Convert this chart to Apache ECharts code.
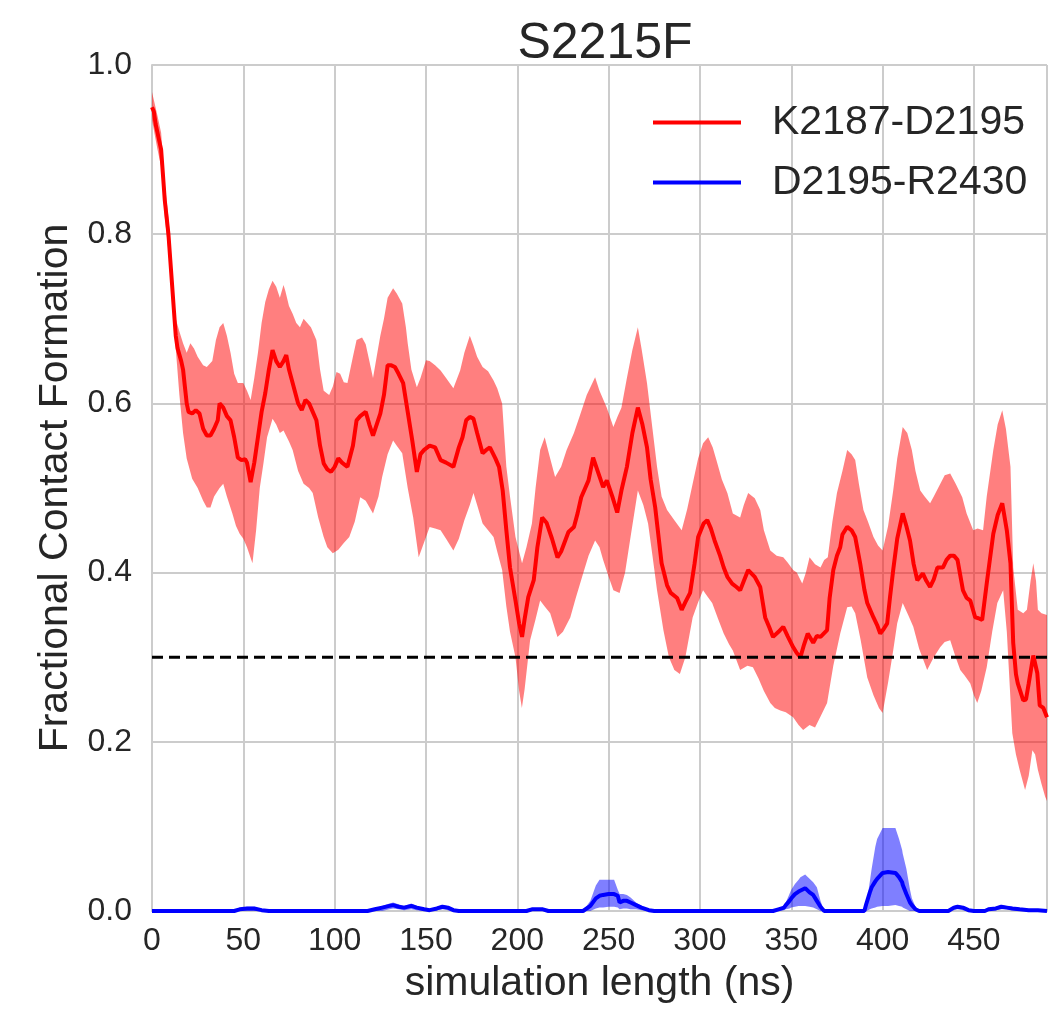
<!DOCTYPE html>
<html>
<head>
<meta charset="utf-8">
<script src="https://cdn.jsdelivr.net/npm/echarts@6/dist/echarts.min.js"></script>
<style>
html,body{margin:0;padding:0;background:#fff;}
#chart{width:1050px;height:1011px;}
</style>
</head>
<body>
<div id="chart"></div>
<script>
// ---------- DATA ----------
const chartTitle = "S2215F";
const xAxisName = "simulation length (ns)";
const yAxisName = "Fractional Contact Formation";
const seriesNames = ["K2187-D2195", "D2195-R2430"];
const thresholdValue = 0.3;
const xTicks = [0, 50, 100, 150, 200, 250, 300, 350, 400, 450];
const yTicks = [0.0, 0.2, 0.4, 0.6, 0.8, 1.0];

// K2187-D2195 mean
const redMeanT = [0,1,2,3,4,5,6,7,8,9,10,11,12,13,14,15,16,17,18,19,20,22,24,26,28,30,32,34,36,37,39,41,43,45,47,49,51,52,54,56,58,60,62,64,66,68,70,72,73.5,75,77,80,82,84,86,88,90,92,94,96,98,100,102,104,107,110,112,114,117,119,121,123,125,127,129,131,133,135,137.5,140,142.5,145,147,149,152,155,158,161,165,168,170,172,174,176,178,181,183,185,188,190,192,194,196,199,201,202.6,204,206,209,211,213.6,216,219,222,224,228,231,233,235,239,241.5,244,247,249,252,254.7,257,260,263,266,268.5,271,273,275.5,279,282,284,287.5,290,292,294.6,297,299,302,304,306,308,311,313,315,317.6,320,322,324,326.4,330,333,335.7,338,340,343,345.6,348,351,353,355,357,359,362,364,366,369.6,371,373,375,376.8,378,380.6,383,385,387.7,390,391.6,395,397,398.7,400.5,402.5,404,405.8,408,411,413,415,417,419,422,424,426,428,430,433,435,437,439,441,444,446,448,450.7,452.5,454.5,457,459,460.6,463,465.5,468,470,471.5,473,474,477,478.5,480,482.5,484.7,486,488,490];
const redMeanV = [0.95,0.945,0.93,0.92,0.91,0.90,0.87,0.84,0.82,0.80,0.77,0.74,0.71,0.68,0.665,0.663,0.65,0.64,0.62,0.60,0.59,0.588,0.592,0.588,0.57,0.562,0.562,0.57,0.58,0.60,0.595,0.585,0.58,0.56,0.536,0.533,0.534,0.53,0.507,0.53,0.56,0.59,0.612,0.64,0.663,0.65,0.643,0.65,0.657,0.64,0.624,0.60,0.592,0.604,0.60,0.59,0.58,0.55,0.529,0.522,0.519,0.525,0.535,0.53,0.525,0.55,0.58,0.585,0.59,0.575,0.562,0.575,0.588,0.61,0.645,0.645,0.643,0.635,0.624,0.59,0.556,0.519,0.54,0.545,0.55,0.548,0.533,0.53,0.525,0.548,0.56,0.58,0.584,0.582,0.565,0.541,0.545,0.548,0.535,0.525,0.497,0.45,0.406,0.367,0.34,0.324,0.345,0.371,0.391,0.43,0.465,0.459,0.44,0.418,0.425,0.448,0.454,0.47,0.489,0.509,0.536,0.52,0.501,0.509,0.49,0.471,0.497,0.525,0.565,0.595,0.575,0.548,0.51,0.477,0.411,0.385,0.376,0.37,0.356,0.365,0.376,0.41,0.442,0.458,0.462,0.452,0.438,0.42,0.406,0.395,0.387,0.383,0.379,0.39,0.403,0.395,0.383,0.347,0.335,0.324,0.33,0.336,0.325,0.312,0.305,0.30,0.315,0.328,0.317,0.325,0.324,0.332,0.37,0.403,0.42,0.43,0.445,0.454,0.45,0.442,0.411,0.38,0.364,0.347,0.338,0.328,0.333,0.34,0.37,0.403,0.44,0.47,0.455,0.438,0.41,0.391,0.399,0.39,0.383,0.392,0.406,0.406,0.415,0.42,0.42,0.415,0.379,0.37,0.367,0.347,0.346,0.344,0.387,0.42,0.446,0.468,0.482,0.45,0.411,0.317,0.28,0.269,0.249,0.25,0.269,0.302,0.281,0.243,0.24,0.229];

// K2187-D2195 upper band
const redUpT = [0,3,5,7,9,11,13,15,17,19,21,23,25,28,30,33,35,37,39,41,43,45,47,50,52,54,56,58,60,62,64,66,68,70,72,73,75,77,79,81,83,85,87,90,92,94,97,99,101,103,105,107,110,112,115,117,119,121,123,125,127,129,132,134,137,139,140,142,145,147,150,152,155,158,161,165,168.7,171,174,176,178,181,184,187,189,191.7,194,196,199,202.6,205,208,210,212.5,215,218,220.7,224,227,231,234,238,242.6,245,249,252.6,255,257,260,263,266,268,271,274,276.5,279,282,286,290,293,296,299,301.7,304.5,307,309,312,315,318,322,324,326.4,330,333,335,338.5,342,345.6,348,351,353,356,358,360,363,366,368,370,372.5,375,378,380.6,383,385,387,389.5,392,395,397.5,400,403,405.8,408,411,413.5,416,418,420.6,423,426,428,431.6,434,437,440,443.6,446,449.6,452,455,457,460.6,463,465.5,467.5,470,471.5,474,477,479,481,482.5,484,485,487,490];
const redUpV = [0.968,0.94,0.92,0.86,0.82,0.76,0.70,0.685,0.671,0.66,0.671,0.665,0.655,0.645,0.643,0.65,0.675,0.69,0.695,0.68,0.66,0.635,0.624,0.624,0.615,0.604,0.63,0.66,0.695,0.72,0.735,0.745,0.738,0.725,0.74,0.733,0.715,0.706,0.695,0.69,0.70,0.695,0.69,0.675,0.64,0.615,0.61,0.62,0.637,0.635,0.625,0.624,0.655,0.675,0.678,0.67,0.65,0.63,0.655,0.68,0.70,0.725,0.736,0.73,0.718,0.69,0.671,0.64,0.619,0.63,0.651,0.65,0.645,0.639,0.63,0.618,0.639,0.66,0.68,0.668,0.655,0.643,0.638,0.627,0.618,0.60,0.525,0.49,0.442,0.411,0.43,0.458,0.50,0.545,0.56,0.535,0.513,0.525,0.545,0.565,0.584,0.61,0.631,0.615,0.595,0.572,0.585,0.595,0.63,0.663,0.69,0.665,0.624,0.57,0.525,0.49,0.474,0.462,0.45,0.475,0.505,0.535,0.553,0.56,0.548,0.533,0.51,0.494,0.47,0.465,0.48,0.494,0.488,0.474,0.45,0.426,0.42,0.418,0.412,0.403,0.40,0.387,0.40,0.418,0.41,0.406,0.415,0.418,0.46,0.494,0.52,0.545,0.54,0.533,0.505,0.474,0.46,0.442,0.432,0.426,0.455,0.497,0.535,0.572,0.565,0.545,0.52,0.497,0.49,0.482,0.49,0.505,0.515,0.517,0.505,0.489,0.47,0.45,0.452,0.45,0.49,0.545,0.575,0.592,0.57,0.525,0.406,0.356,0.352,0.356,0.39,0.411,0.39,0.356,0.352,0.35];

// K2187-D2195 lower band
const redLoT = [0,3,5,7,9,11,13,15,17,19,22,25,28,30,32,34,37,39,41,44,46,48,50,52,55,57,59,61,63,66,68,70,72,75,77,80,83,86,88,91,94,96,99,102,105,108,111,114,117,121,124,126,129,132,134,137,140,143,146,148,152,155,158,161,165,168,171,174,176,178,181,184,187,189,191.7,194,196,199,201,202.5,204,207,210,212.5,215,218,222,225,229,232,235.5,239,242.6,245,247,250,252.6,256,259,262,266,269,271.6,274,276.5,280,283,286,289,292,296,299,301.7,304,306.7,310,313,316,318,322,326,329,332,335,338.5,341,344,347,351,354,356.5,360,363,366,369.6,373,376.8,380.6,383,385,388,391.6,395,398,400,403,405.8,408,411,414,416.8,420,424.4,428,431.6,434,437,440,442.5,445,448,450,451.8,454,457,460,462.8,466,468,470,471,473,475,478,480,482,483.5,485,487,489,490];
const redLoV = [0.935,0.90,0.88,0.82,0.78,0.72,0.665,0.61,0.565,0.535,0.511,0.50,0.485,0.477,0.477,0.49,0.50,0.505,0.49,0.47,0.455,0.446,0.44,0.43,0.411,0.45,0.50,0.529,0.56,0.582,0.575,0.565,0.568,0.555,0.545,0.52,0.505,0.50,0.494,0.465,0.442,0.43,0.423,0.427,0.435,0.442,0.46,0.489,0.485,0.47,0.49,0.513,0.54,0.556,0.55,0.541,0.50,0.465,0.418,0.43,0.454,0.452,0.45,0.44,0.426,0.44,0.462,0.48,0.494,0.48,0.458,0.45,0.442,0.425,0.403,0.36,0.33,0.30,0.26,0.24,0.262,0.32,0.345,0.367,0.36,0.352,0.324,0.33,0.347,0.37,0.395,0.42,0.438,0.43,0.415,0.395,0.379,0.376,0.40,0.442,0.497,0.48,0.458,0.42,0.379,0.332,0.30,0.285,0.28,0.30,0.347,0.365,0.379,0.372,0.364,0.345,0.328,0.315,0.308,0.285,0.29,0.288,0.275,0.26,0.246,0.24,0.237,0.235,0.229,0.22,0.214,0.22,0.217,0.23,0.246,0.29,0.328,0.359,0.36,0.352,0.32,0.276,0.255,0.24,0.234,0.27,0.308,0.34,0.364,0.35,0.336,0.31,0.285,0.30,0.312,0.318,0.32,0.30,0.285,0.278,0.269,0.255,0.246,0.26,0.288,0.33,0.364,0.379,0.33,0.25,0.21,0.185,0.167,0.143,0.16,0.19,0.185,0.167,0.15,0.135,0.13];

// D2195-R2430 mean / band
const blueT  = [0,45,48,52,56,60,64,118,122,126,130,132,135,138,142,145,149,152,156,159,162,165,168,205,208,214,217,236,240,243,245,247,250,253,255,256,258,260,262,265,268,272,275,340,343,346,347,349,350,352,354,355,357.6,360,362,364,366,368,390,391,392,393,394,396,397,400,403,407,409,410.7,411,413,415,416,418,420,436,439,441,444,447,450,456,458,462,465,468,471,475,480,485,490];
const blueV  = [0,0,0.002,0.003,0.003,0.001,0,0,0.002,0.004,0.006,0.007,0.005,0.004,0.006,0.004,0.002,0.001,0.003,0.005,0.004,0.001,0,0,0.002,0.002,0,0,0.006,0.015,0.018,0.019,0.02,0.02,0.018,0.01,0.012,0.012,0.01,0.007,0.004,0.001,0,0,0.002,0.004,0.007,0.012,0.015,0.02,0.023,0.025,0.027,0.022,0.019,0.012,0.005,0,0,0.008,0.015,0.022,0.028,0.035,0.038,0.045,0.046,0.045,0.04,0.034,0.031,0.02,0.01,0.007,0.002,0,0,0.004,0.005,0.004,0.001,0,0,0.002,0.003,0.005,0.004,0.003,0.002,0.001,0.001,0];
const blueUp = [0,0,0.003,0.005,0.005,0.002,0,0,0.003,0.006,0.009,0.01,0.008,0.006,0.009,0.006,0.003,0.002,0.005,0.007,0.006,0.002,0,0,0.003,0.003,0,0,0.012,0.03,0.037,0.037,0.037,0.037,0.025,0.02,0.02,0.019,0.016,0.01,0.006,0.002,0,0,0.003,0.006,0.01,0.02,0.025,0.032,0.037,0.04,0.043,0.038,0.034,0.028,0.012,0,0,0.012,0.02,0.035,0.05,0.076,0.085,0.098,0.098,0.098,0.085,0.072,0.068,0.05,0.025,0.015,0.005,0,0,0.006,0.007,0.006,0.002,0,0,0.003,0.005,0.007,0.006,0.005,0.003,0.002,0.002,0];
const blueLo = [0,0,0,0,0,0,0,0,0,0,0.002,0.003,0.002,0.001,0.002,0.001,0,0,0.001,0.002,0.001,0,0,0,0,0,0,0,0,0.003,0.004,0.004,0.005,0.005,0.004,0.002,0.003,0.003,0.002,0.002,0.001,0,0,0,0,0.001,0.002,0.003,0.004,0.005,0.006,0.006,0.006,0.005,0.004,0.002,0,0,0,0,0.001,0.002,0.003,0.004,0.005,0.006,0.006,0.007,0.006,0.005,0.004,0.002,0,0,0,0,0,0.001,0.002,0.001,0,0,0,0,0.001,0.002,0.002,0.001,0,0,0,0];

// ---------- CHART ----------
const FONT = "'Liberation Sans', Arial, sans-serif";
const TXT = '#262626';
const zip = (t, v) => t.map((x, i) => [x, v[i]]);

function bandSeries(tUp, vUp, tLo, vLo, fill) {
  return {
    type: 'custom',
    silent: true,
    clip: true,
    z: 1,
    data: [[tUp[0], vUp[0]]],
    renderItem: function (params, api) {
      if (params.dataIndex !== 0) return;
      const pts = [];
      for (let i = 0; i < tUp.length; i++) pts.push(api.coord([tUp[i], vUp[i]]));
      for (let i = tLo.length - 1; i >= 0; i--) pts.push(api.coord([tLo[i], vLo[i]]));
      return { type: 'polygon', shape: { points: pts }, style: { fill: fill } };
    }
  };
}

const chart = echarts.init(document.getElementById('chart'), null, { renderer: 'canvas' });
chart.setOption({
  animation: false,
  backgroundColor: '#ffffff',
  title: {
    text: chartTitle,
    left: 600, top: 14, textAlign: 'center',
    textStyle: { fontFamily: FONT, fontSize: 50, fontWeight: 'normal', color: TXT }
  },
  legend: {
    data: seriesNames,
    orient: 'vertical',
    left: 648, top: 97,
    itemWidth: 88, itemHeight: 4, itemGap: 19,
    icon: 'rect',
    textStyle: { fontFamily: FONT, fontSize: 41, lineHeight: 41, color: TXT, padding: [0, 0, 0, 26] }
  },
  grid: { left: 152, right: 3, top: 65, bottom: 100, containLabel: false },
  xAxis: {
    type: 'value', min: 0, max: 490, interval: 50,
    name: xAxisName, nameLocation: 'middle', nameGap: 52,
    nameTextStyle: { fontFamily: FONT, fontSize: 41, color: TXT },
    axisLine: { show: true, lineStyle: { color: '#cccccc', width: 2 } },
    axisTick: { show: false },
    axisLabel: {
      fontFamily: FONT, fontSize: 32, color: TXT, margin: 14, showMaxLabel: false,
      formatter: v => xTicks.indexOf(v) >= 0 ? String(v) : ''
    },
    splitLine: { show: true, lineStyle: { color: '#cccccc', width: 2 } }
  },
  yAxis: {
    type: 'value', min: 0, max: 1, interval: 0.2,
    name: yAxisName, nameLocation: 'middle', nameGap: 74,
    nameTextStyle: { fontFamily: FONT, fontSize: 41, color: TXT },
    axisLine: { show: true, lineStyle: { color: '#cccccc', width: 2 } },
    axisTick: { show: false },
    axisLabel: {
      fontFamily: FONT, fontSize: 32, color: TXT, margin: 20,
      formatter: v => yTicks.find(t => Math.abs(t - v) < 1e-9).toFixed(1)
    },
    splitLine: { show: true, lineStyle: { color: '#cccccc', width: 2 } }
  },
  series: [
    bandSeries(redUpT, redUpV, redLoT, redLoV, 'rgba(255,0,0,0.5)'),
    {
      name: seriesNames[0], type: 'line', data: zip(redMeanT, redMeanV),
      showSymbol: false, symbol: 'none', z: 3,
      lineStyle: { color: '#ff0000', width: 4 }, itemStyle: { color: '#ff0000' }
    },
    bandSeries(blueT, blueUp, blueT, blueLo, 'rgba(0,0,255,0.5)'),
    {
      name: seriesNames[1], type: 'line', data: zip(blueT, blueV),
      showSymbol: false, symbol: 'none', z: 4,
      lineStyle: { color: '#0000ff', width: 4 }, itemStyle: { color: '#0000ff' }
    },
    {
      name: 'threshold', type: 'line', data: [[0, thresholdValue], [490, thresholdValue]],
      showSymbol: false, symbol: 'none', z: 5, silent: true,
      lineStyle: { color: '#000000', width: 3, type: [11, 6] }
    }
  ]
});
</script>
</body>
</html>
